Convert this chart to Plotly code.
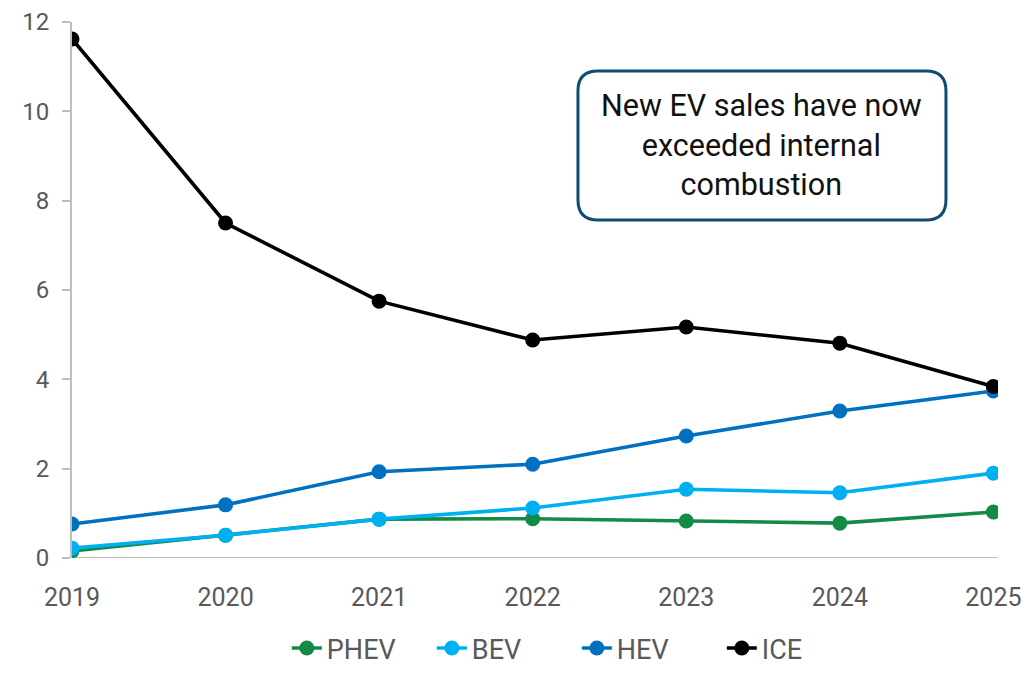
import plotly.graph_objects as go

years = ["2019", "2020", "2021", "2022", "2023", "2024", "2025"]
phev = [0.16, 0.51, 0.87, 0.88, 0.83, 0.78, 1.03]
bev = [0.22, 0.51, 0.87, 1.12, 1.54, 1.46, 1.90]
hev = [0.76, 1.19, 1.93, 2.10, 2.73, 3.29, 3.74]
ice = [11.62, 7.50, 5.75, 4.88, 5.17, 4.81, 3.84]

series = [
    ("PHEV", phev, "#138A46"),
    ("BEV", bev, "#00B0F0"),
    ("HEV", hev, "#0070C0"),
    ("ICE", ice, "#000000"),
]

FONT = "Roboto"
GREY = "#595959"

fig = go.Figure()
for name, vals, color in series:
    fig.add_trace(go.Scatter(
        x=list(range(len(years))), y=vals, name=name, mode="lines+markers",
        line=dict(color=color, width=3.6),
        marker=dict(color=color, size=15),
    ))

# rounded call-out box in paper coordinates
x0, x1, y0, y1 = 0.5464, 0.9438, 0.6306, 0.9086
rx, ry = 0.0216, 0.0373
path = (f"M {x0+rx},{y1} L {x1-rx},{y1} Q {x1},{y1} {x1},{y1-ry} "
        f"L {x1},{y0+ry} Q {x1},{y0} {x1-rx},{y0} "
        f"L {x0+rx},{y0} Q {x0},{y0} {x0},{y0+ry} "
        f"L {x0},{y1-ry} Q {x0},{y1} {x0+rx},{y1} Z")

fig.update_layout(
    width=1028, height=673,
    margin=dict(l=72, r=30, t=22, b=115, autoexpand=False),
    paper_bgcolor="white", plot_bgcolor="white",
    font=dict(family=FONT, size=25, color=GREY),
    showlegend=True,
    legend=dict(orientation="h", x=0.232, xanchor="left",
                yref="container", y=-0.012, yanchor="bottom",
                entrywidth=100, entrywidthmode="pixels",
                font=dict(size=27, color=GREY), traceorder="normal"),
    xaxis=dict(
        tickmode="array", tickvals=list(range(len(years))), ticktext=years,
        range=[0, 6.03], showgrid=False, zeroline=False,
        showline=False, ticks="", ticklabelstandoff=22,
        tickfont=dict(size=25, color=GREY),
    ),
    yaxis=dict(
        range=[0, 12], dtick=2, showgrid=False, zeroline=False,
        showline=True, linecolor="#BFBFBF", linewidth=2,
        ticks="outside", ticklen=8, tickcolor="#BFBFBF", tickwidth=1.5,
        ticklabelstandoff=8,
        tickfont=dict(size=24, color=GREY),
    ),
    shapes=[
        dict(type="line", xref="paper", yref="y", x0=0, x1=1, y0=0, y1=0,
             line=dict(color="#BFBFBF", width=2), layer="below"),
        dict(type="path", xref="paper", yref="paper", path=path,
             line=dict(color="#0F4C75", width=3), fillcolor="white", layer="above"),
    ],
    annotations=[
        dict(xref="paper", yref="paper", x=(x0 + x1) / 2, y=(y0 + y1) / 2,
             xanchor="center", yanchor="middle",
             text="New EV sales have now<br>exceeded internal<br>combustion",
             showarrow=False, align="center",
             font=dict(family=FONT, size=30.5, color="#111111")),
    ],
)

fig.write_html("out.html")
